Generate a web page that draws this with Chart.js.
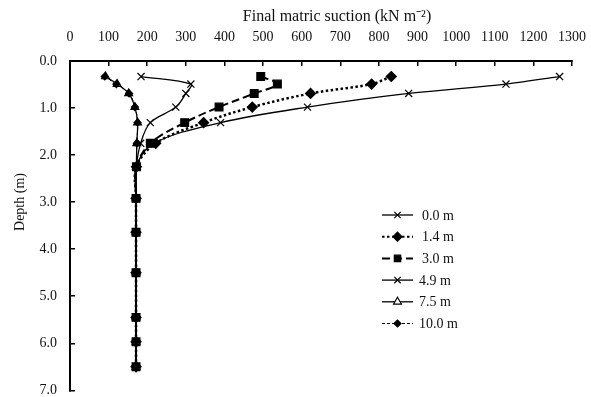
<!DOCTYPE html>
<html>
<head>
<meta charset="utf-8">
<script src="https://cdn.jsdelivr.net/npm/chart.js@4/dist/chart.umd.min.js"></script>
<style>
  html, body { margin: 0; padding: 0; background: #fff; }
  #wrap { width: 591px; height: 397px; position: relative; }
</style>
</head>
<body>
<div id="wrap"><canvas id="chart" width="591" height="397"></canvas></div>
<script>
// depth of each measuring point (m)
const depths = [0.33, 0.49, 0.69, 0.98, 1.31, 1.75, 2.25, 2.92, 3.64, 4.5, 5.45, 5.97, 6.5];

// final matric suction (kN m-2) for each series
const s00 = [1268, 1129, 877, 615, 390, 217, 172, 171, 171, 171, 171, 171, 171];
const s14 = [832, 781, 623, 472, 346, 222, 172, 171, 171, 171, 171, 171, 171];
const s30 = [494, 537, 477, 386, 297, 208, 172, 171, 171, 171, 171, 171, 171];
const s49 = [184, 313, 300, 274, 208, 183, 172, 171, 171, 171, 171, 171, 171];
const s75 = [92, 122, 152, 168, 175, 173, 172, 171, 171, 171, 171, 171, 171];
const s100 = [90, 120, 153, 168, 175, 173, 172, 171, 171, 171, 171, 171, 171];

const seriesLabels = ["0.0 m", "1.4 m", "3.0 m", "4.9 m", "7.5 m", "10.0 m"];
const xTicks = [0, 100, 200, 300, 400, 500, 600, 700, 800, 900, 1000, 1100, 1200, 1300];
const yTicks = [0, 1, 2, 3, 4, 5, 6, 7];

const xTitle = "Final matric suction (kN m\u207B\u00B2)";
const yTitle = "Depth (m)";

const FONT = "'Liberation Serif', 'Times New Roman', serif";

function pts(vals) {
  return vals.map((v, i) => ({ x: v, y: depths[i] }));
}

const styles = [
  { pointStyle: "crossRot", pointRadius: 5, borderWidth: 1.3, borderDash: [], fill: "#000" },
  { pointStyle: "rectRot", pointRadius: 5, borderWidth: 2.5, borderDash: [2.5, 2.5], fill: "#000" },
  { pointStyle: "rect", pointRadius: 5.5, borderWidth: 2, borderDash: [8, 4], fill: "#000" },
  { pointStyle: "crossRot", pointRadius: 5, borderWidth: 1.3, borderDash: [], fill: "#000" },
  { pointStyle: "triangle", pointRadius: 4.5, borderWidth: 1.3, borderDash: [], fill: "#fff" },
  { pointStyle: "rectRot", pointRadius: 3.5, borderWidth: 1, borderDash: [3, 2], fill: "#000" },
];

const allValues = [s00, s14, s30, s49, s75, s100];

const datasets = allValues.map((vals, i) => ({
  label: seriesLabels[i],
  data: pts(vals),
  showLine: true,
  tension: 0.35,
  borderColor: "#000",
  backgroundColor: styles[i].fill,
  borderWidth: styles[i].borderWidth,
  borderDash: styles[i].borderDash,
  pointStyle: styles[i].pointStyle,
  pointRadius: styles[i].pointRadius,
  pointBorderWidth: 1.2,
  pointBorderColor: "#000",
  pointBackgroundColor: styles[i].fill,
  order: 5 - i,
}));

// axis titles and the legend box inside the plot
const extras = {
  id: "extras",
  afterDraw(chart) {
    const ctx = chart.ctx;
    ctx.save();
    ctx.fillStyle = "#111";
    ctx.font = "16px " + FONT;
    ctx.textAlign = "center";
    ctx.textBaseline = "middle";
    ctx.fillText(xTitle, 337, 17);

    ctx.translate(20, 202);
    ctx.rotate(-Math.PI / 2);
    ctx.font = "14px " + FONT;
    ctx.fillText(yTitle, 0, 0);
    ctx.restore();

    // legend
    ctx.save();
    const x0 = 382, x1 = 413, rowH = 21.7;
    let y = 215;
    chart.data.datasets.forEach((ds, i) => {
      ctx.strokeStyle = "#000";
      ctx.lineWidth = Math.min(ds.borderWidth, 2);
      ctx.setLineDash(ds.borderDash);
      ctx.beginPath();
      ctx.moveTo(x0, y);
      ctx.lineTo(x1, y);
      ctx.stroke();
      ctx.setLineDash([]);
      ctx.fillStyle = ds.pointBackgroundColor;
      ctx.lineWidth = 1.2;
      Chart.helpers.drawPoint(ctx, {
        pointStyle: ds.pointStyle,
        radius: Math.min(ds.pointRadius, 4.5),
        rotation: 0,
        borderWidth: 1.2,
      }, (x0 + x1) / 2, y);
      ctx.fillStyle = "#111";
      ctx.font = "14px " + FONT;
      ctx.textAlign = "left";
      ctx.textBaseline = "middle";
      ctx.fillText(ds.label, i === 3 || i === 4 || i === 5 ? 419 : 422, y + 1);
      y += rowH;
    });
    ctx.restore();
  },
};

function noPad(scale) {
  scale.paddingLeft = 0;
  scale.paddingRight = 0;
  scale.paddingTop = 0;
  scale.paddingBottom = 0;
}

new Chart(document.getElementById("chart"), {
  type: "scatter",
  data: { datasets: datasets },
  options: {
    responsive: false,
    animation: false,
    layout: { padding: { left: 0, right: 19, top: 0, bottom: 4 } },
    plugins: { legend: { display: false }, tooltip: { enabled: false } },
    scales: {
      x: {
        type: "linear",
        position: "top",
        min: 0,
        max: 1300,
        afterBuildTicks: (scale) => { scale.ticks = xTicks.map((v) => ({ value: v })); },
        afterFit: (scale) => { scale.height = 61; noPad(scale); },
        ticks: {
          color: "#111",
          font: { family: FONT, size: 14 },
          padding: 20,
          maxRotation: 0,
          callback: (v) => String(v),
        },
        grid: { drawOnChartArea: false, drawTicks: true, tickLength: -5, color: "#000", lineWidth: 1.5 },
        border: { display: true, color: "#000", width: 2 },
      },
      y: {
        type: "linear",
        reverse: true,
        min: 0,
        max: 7,
        afterBuildTicks: (scale) => { scale.ticks = yTicks.map((v) => ({ value: v })); },
        afterFit: (scale) => { scale.width = 70; noPad(scale); },
        ticks: {
          color: "#111",
          font: { family: FONT, size: 14 },
          padding: 18,
          callback: (v) => Number(v).toFixed(1),
        },
        grid: { drawOnChartArea: false, drawTicks: true, tickLength: -5, color: "#000", lineWidth: 1.5 },
        border: { display: true, color: "#000", width: 2 },
      },
    },
  },
  plugins: [extras],
});
</script>
</body>
</html>
